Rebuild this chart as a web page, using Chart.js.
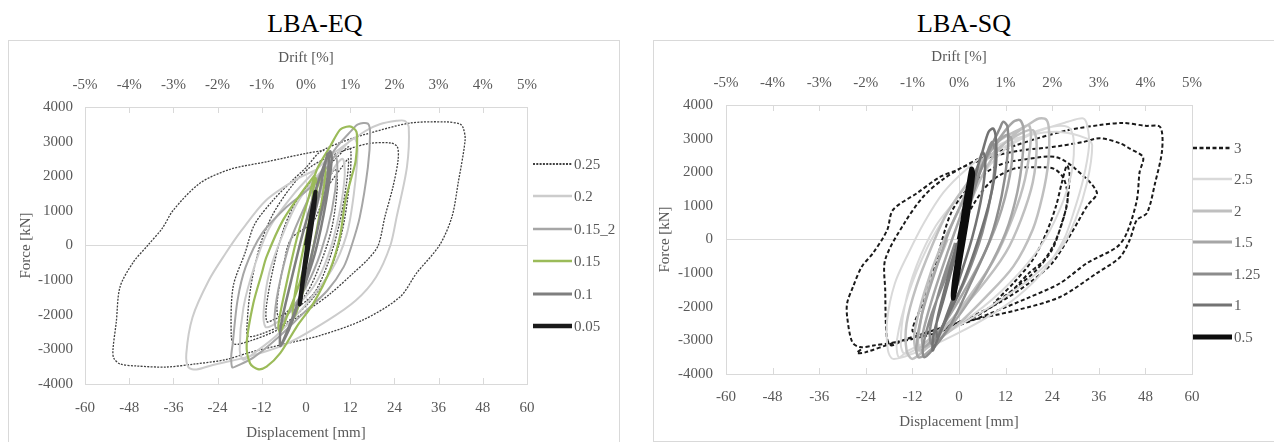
<!DOCTYPE html>
<html lang="en">
<head>
    <meta charset="UTF-8">
    <title>LBA-EQ / LBA-SQ</title>
    <script src="https://cdn.jsdelivr.net/npm/chart.js"></script>
    <style>
        body { margin: 0; background: #fff; width: 1274px; height: 442px; overflow: hidden; position: relative; font-family: "Liberation Serif", serif; }
        .title { position: absolute; top: 9px; font-size: 26px; line-height: 30px; color: #000; text-align: center; width: 300px; }
        .panel { position: absolute; border: 1px solid #d9d9d9; box-sizing: border-box; }
        canvas { position: absolute; }
        .lg { position: absolute; height: 20px; display: flex; align-items: center; }
        .lg span { font-family: "Liberation Serif", serif; font-size: 15px; line-height: 20px; color: #595959; margin-left: 2px; }
    </style>
</head>
<body>
    <div class="title" style="left:165px">LBA-EQ</div>
    <div class="title" style="left:814px">LBA-SQ</div>
    <div class="panel" style="left:8px; top:40px; width:612px; height:420px"></div>
    <div class="panel" style="left:653px; top:40px; width:640px; height:402px"></div>
    <canvas id="eqChart" width="611" height="402" style="left:8px; top:40px"></canvas>
    <canvas id="sqChart" width="621" height="402" style="left:653px; top:40px"></canvas>
    <div id="legends"></div>
    <script>
        // axis ticks
        const dispMin = -60, dispMax = 60, dispStep = 12;
        const driftMin = -5, driftMax = 5, driftStep = 1;
        const forceMin = -4000, forceMax = 4000, forceStep = 1000;

        // LBA-EQ series, [displacement mm, force kN]
        const eqLabels = ['0.25', '0.2', '0.15_2', '0.15', '0.1', '0.05'];
        const eq025 = [[0,0],[3,1200],[6,1900],[8,2200],[8.5,1700],[7,500],[4,-500],[0,-1400],[-5,-1900],[-7.5,-2050],[-7.8,-1600],[-6,-500],[-4,200],[2,700],[6,1700],[10,2300],[11.5,2500],[11,1800],[9,600],[6,-500],[2,-1400],[-4,-1900],[-9,-2150],[-10.6,-2200],[-10.8,-1800],[-9,-700],[-6,500],[-2,1400],[3,2000],[8,2500],[11.5,2850],[12.2,2700],[11.8,1800],[10,500],[7,-600],[2,-1500],[-5,-2200],[-12,-2550],[-15.7,-2620],[-16,-2300],[-15,-1200],[-12.5,0],[-9,900],[-4,1700],[1,2250],[7,2600],[12,2800],[17.4,2950],[23,2960],[24.8,2850],[25,2470],[23.6,1690],[21.4,820],[19.6,0],[16.8,-400],[12.8,-800],[6.5,-1400],[0,-1900],[-8,-2450],[-15,-2750],[-19.5,-2850],[-20.3,-2600],[-19.8,-1200],[-16.5,-200],[-14,600],[-9,1300],[-3.5,1900],[0,2250],[3.8,2700],[10,3000],[17.4,3250],[28.2,3535],[38,3570],[41.8,3510],[42.7,3390],[43.2,3050],[41.3,1800],[39.6,820],[36.2,0],[30,-800],[25.5,-1490],[15.5,-2150],[3.8,-2600],[-6,-2850],[-15,-3080],[-22,-3300],[-30,-3420],[-38,-3510],[-46,-3480],[-50.5,-3420],[-52.2,-3250],[-52.4,-3000],[-51.5,-2200],[-50.5,-1200],[-47,-500],[-43,0],[-39,500],[-36,1025],[-28.8,1800],[-20.6,2200],[-10.6,2420],[0,2660],[5,2750]];
        const eq02 = [[0,0],[4,1500],[8,2300],[10,2500],[10.5,2000],[9,900],[6,-300],[2,-1200],[-4,-1900],[-9,-2300],[-11,-2350],[-11.5,-1900],[-10,-800],[-6,400],[-2,1300],[3,2000],[9,2700],[13,3100],[14,2800],[13,1500],[11,300],[7,-700],[0,-1700],[-8,-2600],[-14,-3100],[-17,-3300],[-18,-3000],[-17,-1800],[-14,-600],[-10,500],[-4,1400],[2,2100],[8,2700],[16,3300],[20,3500],[24.6,3600],[26.8,3600],[27.9,3420],[27.4,2265],[24.6,820],[22.9,0],[19,-915],[13.5,-1590],[5.8,-2170],[-5.3,-2840],[-16.4,-3230],[-25.3,-3450],[-29.7,-3580],[-31.9,-3520],[-32.5,-3130],[-30.8,-2070],[-26.4,-1010],[-21.9,-240],[-17.5,434],[-10.9,1300],[-3.1,1880],[3,2200]];
        const eq0152 = [[0,0],[3,1300],[6,2200],[8,2600],[8.5,2200],[7,1000],[4,-200],[0,-1200],[-5,-2000],[-8,-2400],[-8.5,-2000],[-7,-1000],[-4,200],[0,1200],[4,2100],[8,2800],[12.4,3325],[14.1,3500],[16.8,3520],[17.4,3230],[16.8,2265],[14.6,820],[12.4,0],[10.2,-625],[5.8,-1300],[-0.9,-1975],[-7.5,-2650],[-14.2,-3230],[-18.6,-3470],[-20,-3520],[-20.3,-3200],[-19.9,-2840],[-18.6,-1590],[-16.4,-625],[-12,337],[-5.3,1110],[1.3,1690],[6,2300]];
        const eq015 = [[0,0],[2,1300],[4.5,2100],[5.2,2250],[5,1800],[3,500],[0,-1000],[-2.5,-1900],[-3.5,-2100],[-3.3,-1600],[-1.5,-500],[1,800],[2.5,1950],[3,1700],[1.5,500],[-1.5,-1000],[-5,-2000],[-7,-2500],[-7.5,-2300],[-5.5,-1200],[-2.5,200],[0.5,1300],[2.9,2180],[6.5,2850],[9.2,3340],[11,3430],[12.5,3420],[13.8,3240],[13.5,2460],[12.4,1990],[10.7,1300],[9.2,255],[6.5,-710],[2,-1670],[-2.5,-2340],[-7,-3110],[-10.7,-3500],[-13.1,-3570],[-15.2,-3400],[-16.1,-2825],[-14.3,-1670],[-12,-800],[-10.7,-320],[-6.2,740],[-0.7,1600],[2.5,2050]];
        const eq01 = [[0,0],[3,1200],[5.8,2650],[6.3,2600],[5.5,1700],[3,400],[0,-900],[-3,-1900],[-6,-2700],[-7,-2900],[-6.8,-2300],[-4,-1000],[-1,300],[2,1400],[4.5,2200],[6.5,2720],[7,2500],[5.5,1300],[2.5,-200],[-1.5,-1500],[-4.5,-2400],[-6.5,-2850]];
        const eq005 = [[0,0],[1.3,800],[2.3,1400],[2.6,1550],[2.2,1100],[1,200],[-0.5,-800],[-1.4,-1500],[-1.7,-1700],[-1.3,-1300],[-0.2,-400],[1,500],[2.2,1300]];

        // LBA-SQ series
        const sqLabels = ['3', '2.5', '2', '1.5', '1.25', '1', '0.5'];
        const sq3 = [[0,0],[3,900],[8,1700],[14,2100],[20,2150],[24.5,2100],[27,1800],[28,1200],[26.5,500],[24,-300],[20,-900],[15,-1400],[9,-1900],[14,-1300],[19,-600],[22.5,200],[25,1000],[26.5,1700],[27.8,2200],[28.5,1900],[27.5,900],[25,0],[22,-600],[18,-1000],[12,-1700],[4,-2300],[-4,-2600],[-10,-2800],[-12,-2700],[-9,-1800],[-6,-700],[-2,800],[3,1600],[10,2200],[18,2400],[25,2450],[30,2100],[35.5,1400],[33,1000],[29,200],[24,-700],[18,-1300],[10,-1900],[0,-2450],[-8,-2750],[-14,-2980],[-17.5,-3150],[-18.6,-2900],[-19,-1500],[-19,-600],[-14,500],[-9,1300],[-4,1800],[1,2150],[8,2450],[16,2650],[24,2750],[32,2900],[36.3,3010],[41.5,2860],[44,2700],[47.4,2450],[46.5,2000],[45.8,1170],[43.2,190],[40.7,-220],[33,-700],[26,-1300],[17.5,-1750],[8,-2200],[0,-2550],[-8,-2850],[-16,-3050],[-22,-3150],[-25.5,-3200],[-27.5,-3050],[-28.8,-2300],[-28.8,-1890],[-27.3,-1410],[-25,-800],[-22.1,-400],[-18.5,280],[-17,880],[-10.8,1380],[-4.9,1860],[-0.5,2070],[6,2450],[12,2700],[20,3000],[28,3250],[36,3400],[42.3,3465],[48,3380],[51.8,3345],[52.3,2660],[50.5,1680],[48.4,788],[45.8,580],[44,0],[41.5,-520],[35.5,-1000],[26,-1710],[14.9,-2100],[0.3,-2480],[-4.9,-2690],[-17,-3080],[-24,-3350],[-26.3,-3380],[-25,-3250]];
        const sq25 = [[0,0],[5,1700],[12,2700],[20,3200],[28,3500],[32,3600],[33,3400],[33.5,2800],[32,1800],[29.5,800],[27,0],[22,-900],[15,-1700],[6,-2400],[-4,-3000],[-12,-3400],[-17,-3550],[-18.3,-3300],[-18.5,-2400],[-16.5,-1300],[-13,-400],[-9,500],[-4,1400],[2,2100],[10,2800],[18,3100],[26,3200],[33,3000],[34.3,2800],[33,1700],[30,600],[26,-300],[18,-1200],[8,-2000],[-2,-2700],[-10,-3200],[-14,-3400],[-15,-3100],[-14,-2000],[-11,-800],[-6,400],[0,1300],[6,2300],[14,2900],[22,3300],[28,3350],[29.5,3000],[29,2000],[26,900],[21,-200],[13,-1300],[4,-2200],[-6,-2900],[-13,-3300],[-15.5,-3500],[-16,-3000],[-13,-1600],[-8,-200],[-2,1000]];
        const sq2 = [[0,0],[4,1400],[9,2500],[14,3100],[19,3500],[20.6,3600],[22.6,3550],[23.2,3200],[23,2300],[21.5,1300],[19,300],[14,-800],[7,-1700],[-1,-2600],[-8,-3200],[-12,-3550],[-13.5,-3300],[-13.5,-2500],[-11,-1400],[-7,-200],[-3,800],[3,1800],[9,2600],[15,3100],[19,3250],[20,2800],[19,1700],[16,600],[12,-400],[5,-1500],[-3,-2500],[-9,-3100],[-11,-3300],[-11.5,-2800],[-9,-1600],[-5,-300],[0,900],[4,2000],[10,2900],[16,3300],[18,3400],[18.5,3000],[17,1800],[14,700],[9,-600],[2,-1800],[-5,-2800],[-10,-3300],[-10.5,-2900],[-8,-1500],[-3,0]];
        const sq15 = [[0,0],[3,1300],[7,2400],[11,3100],[14,3500],[15.7,3550],[16.6,3300],[16.4,2500],[15,1400],[12,200],[7,-1000],[1,-2100],[-5,-3000],[-9,-3450],[-10.5,-3500],[-11,-3200],[-9.5,-2200],[-6,-900],[-2,400],[3,1600],[8,2600],[12,3100],[13.5,3000],[13.5,2200],[11,900],[7,-300],[1,-1600],[-5,-2700],[-9,-3200],[-9.5,-2900],[-7,-1800],[-3,-400],[1,900]];
        const sq125 = [[0,0],[4,1600],[8,2700],[10.5,3300],[11.4,3500],[12.5,3350],[12.5,2500],[11,1300],[8,0],[3,-1300],[-2,-2500],[-7,-3300],[-9,-3500],[-9.3,-3200],[-7,-2200],[-3,-1000],[1,300],[4,1500],[7,2500],[8.5,2900],[9.3,2600],[8.5,1500],[6,200],[2,-1100],[-3,-2300],[-7,-3100],[-7.5,-2700],[-5,-1500],[-1,-100]];
        const sq1 = [[0,0],[3,1500],[6,2600],[7.6,3200],[8.8,3300],[9.5,3000],[9.5,2200],[8,1200],[5,0],[1,-1300],[-3,-2300],[-6,-3100],[-6.8,-3300],[-6.5,-2800],[-4,-1800],[-1,-500],[2,900],[4.5,2000],[6,2600],[6.8,2400],[6,1400],[3.5,100],[0,-1200],[-3,-2200],[-5.5,-2900],[-5.8,-2500],[-3.5,-1400],[-0.5,-100]];
        const sq05 = [[0,0],[1.5,900],[3.2,2100],[3.6,1950],[2.2,700],[0.3,-600],[-1,-1500],[-1.5,-1750],[-1.3,-1300],[0,-300],[1.5,1000],[3.3,2050],[3.5,1900],[1.8,500],[0,-800],[-1.4,-1700]];

        // styles
        const eqStyle = [
            { color: '#404040', width: 1.3, dash: [2, 1.3] },
            { color: '#cccccc', width: 2 },
            { color: '#a6a6a6', width: 2 },
            { color: '#9bbb59', width: 2.2 },
            { color: '#7f7f7f', width: 2.5 },
            { color: '#1a1a1a', width: 4 }
        ];
        const sqStyle = [
            { color: '#1a1a1a', width: 2, dash: [4, 2.5] },
            { color: '#d9d9d9', width: 2 },
            { color: '#bfbfbf', width: 2.5 },
            { color: '#a6a6a6', width: 2.5 },
            { color: '#8c8c8c', width: 2.5 },
            { color: '#737373', width: 2.5 },
            { color: '#0d0d0d', width: 4.5 }
        ];

        Chart.defaults.font.family = '"Liberation Serif", serif';
        Chart.defaults.font.size = 15;
        Chart.defaults.color = '#595959';

        // frame + inside tick marks like Excel
        const framePlugin = {
            id: 'frame',
            beforeDatasetsDraw(chart) {
                const { ctx, chartArea: a, scales } = chart;
                ctx.save();
                ctx.strokeStyle = '#d9d9d9';
                ctx.lineWidth = 1;
                ctx.strokeRect(Math.round(a.left) + 0.5, Math.round(a.top) + 0.5, Math.round(a.right - a.left), Math.round(a.bottom - a.top));
                ctx.beginPath();
                scales.x.ticks.forEach(t => {
                    const px = Math.round(scales.x.getPixelForValue(t.value)) + 0.5;
                    ctx.moveTo(px, a.bottom); ctx.lineTo(px, a.bottom - 6);
                });
                scales.x2.ticks.forEach(t => {
                    const px = Math.round(scales.x2.getPixelForValue(t.value)) + 0.5;
                    ctx.moveTo(px, a.top); ctx.lineTo(px, a.top + 6);
                });
                ctx.stroke();
                ctx.restore();
            }
        };

        const zeroGrid = c => c.tick.value === 0 ? '#d9d9d9' : 'rgba(0,0,0,0)';

        function makeChart(id, labels, series, styles, L) {
            const n = series.length;
            const datasets = series.map((pts, i) => ({
                label: labels[i],
                data: pts.map(p => ({ x: p[0], y: p[1] })),
                showLine: true,
                borderColor: styles[i].color,
                borderWidth: styles[i].width,
                borderDash: styles[i].dash || [],
                pointRadius: 0,
                tension: 0.3,
                fill: false,
                order: n - i
            }));
            return new Chart(document.getElementById(id), {
                type: 'scatter',
                data: { datasets },
                options: {
                    animation: false,
                    responsive: false,
                    devicePixelRatio: 1,
                    layout: { padding: { left: 0, top: 0, bottom: 0, right: L.padRight } },
                    plugins: { legend: { display: false }, tooltip: { enabled: false } },
                    scales: {
                        x: {
                            type: 'linear', position: 'bottom', min: dispMin, max: dispMax,
                            ticks: { stepSize: dispStep, padding: L.xPad, maxRotation: 0, autoSkip: false, callback: v => String(v) },
                            grid: { color: zeroGrid, drawTicks: false },
                            border: { display: false },
                            title: { display: true, text: 'Displacement [mm]', padding: { top: 0, bottom: L.xTitlePad } },
                            afterFit: s => { s.height = L.bottomH; }
                        },
                        x2: {
                            type: 'linear', position: 'top', min: driftMin, max: driftMax,
                            ticks: { stepSize: driftStep, padding: 13, maxRotation: 0, autoSkip: false, callback: v => v + '%' },
                            grid: { display: false, drawTicks: false },
                            border: { display: false },
                            title: { display: true, text: 'Drift [%]', padding: { top: L.x2TitlePad, bottom: 0 } },
                            afterFit: s => { s.height = L.topH; }
                        },
                        y: {
                            type: 'linear', position: 'left', min: forceMin, max: forceMax,
                            ticks: { stepSize: forceStep, padding: L.yPad, callback: v => String(v) },
                            grid: { color: zeroGrid, drawTicks: false },
                            border: { display: false },
                            title: { display: true, text: 'Force [kN]', padding: { top: L.yTitlePad, bottom: 0 } },
                            afterFit: s => { s.width = L.leftW; }
                        }
                    }
                },
                plugins: [framePlugin]
            });
        }

        function drawLegend(labels, styles, x, y0, dy) {
            const box = document.getElementById('legends');
            labels.forEach((lab, i) => {
                const st = styles[i];
                const row = document.createElement('div');
                row.className = 'lg';
                row.style.left = x + 'px';
                row.style.top = Math.round(y0 + i * dy - 10) + 'px';
                const dash = st.dash ? ` stroke-dasharray="${st.dash.join(' ')}"` : '';
                row.innerHTML = `<svg width="39" height="20"><line x1="0" y1="10" x2="39" y2="10" stroke="${st.color}" stroke-width="${st.width + 0.5}"${dash}/></svg><span>${lab}</span>`;
                box.appendChild(row);
            });
        }

        makeChart('eqChart', eqLabels, [eq025, eq02, eq0152, eq015, eq01, eq005], eqStyle,
            { padRight: 92, leftW: 77, topH: 67, bottomH: 58, xPad: 15, yPad: 12, xTitlePad: 0, x2TitlePad: 9, yTitlePad: 9 });
        makeChart('sqChart', sqLabels, [sq3, sq25, sq2, sq15, sq125, sq1, sq05], sqStyle,
            { padRight: 82, leftW: 73, topH: 65, bottomH: 68, xPad: 14, yPad: 13, xTitlePad: 11, x2TitlePad: 8, yTitlePad: 3 });

        drawLegend(eqLabels, eqStyle, 533, 164, 32.4);
        drawLegend(sqLabels, sqStyle, 1193, 147.5, 31.5);
    </script>
</body>
</html>
